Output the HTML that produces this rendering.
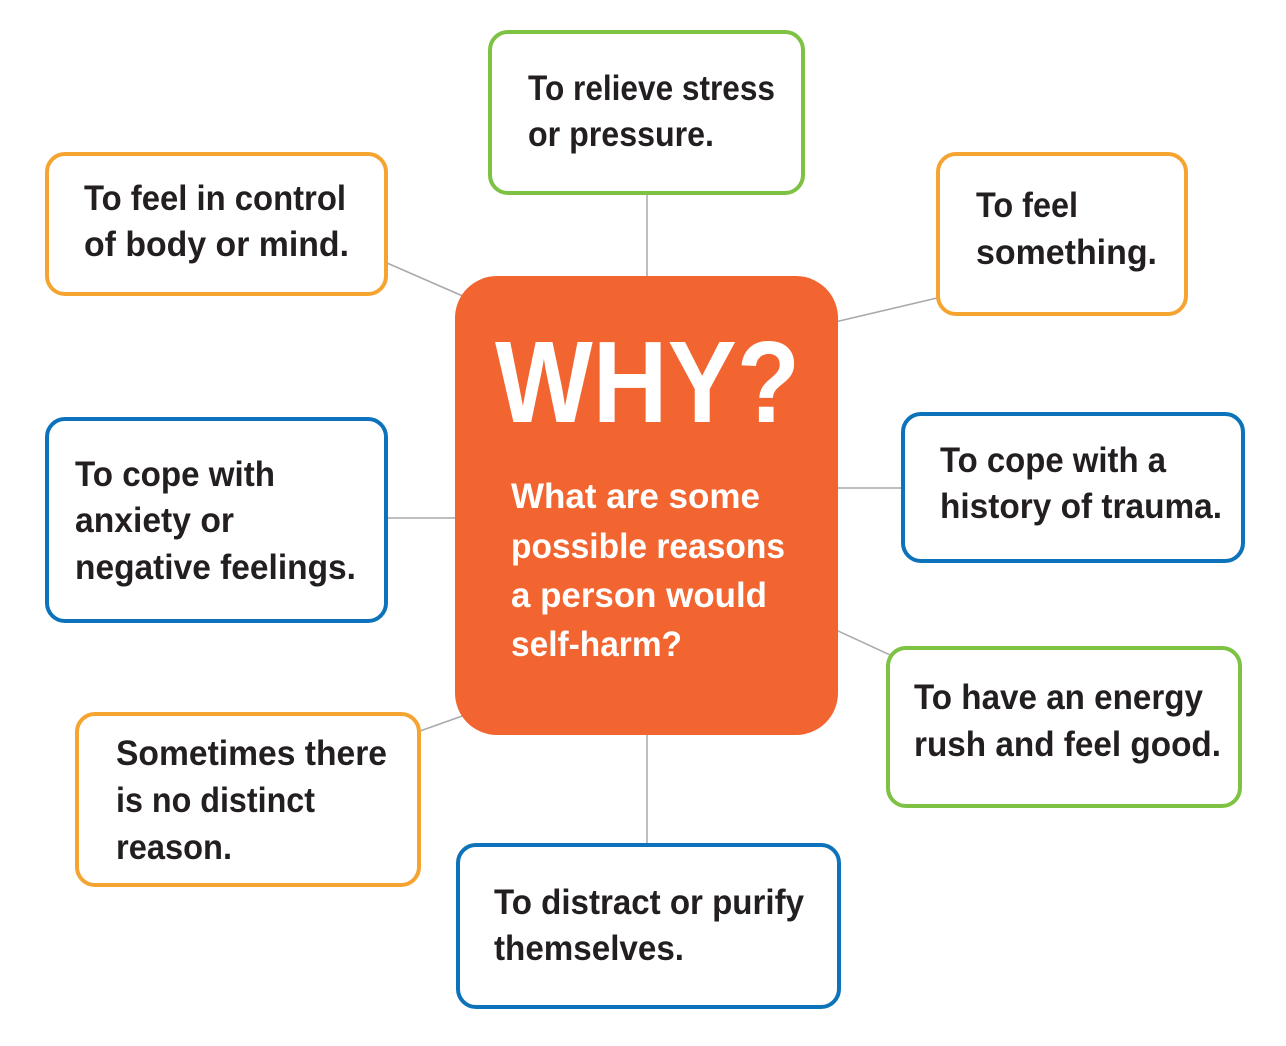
<!DOCTYPE html>
<html><head><meta charset="utf-8"><style>
html,body{margin:0;padding:0;background:#fff;}
svg{display:block}
text{font-family:"Liberation Sans",sans-serif;font-weight:bold;}
</style></head><body>
<svg width="1286" height="1046" viewBox="0 0 1286 1046" xmlns="http://www.w3.org/2000/svg">
<g stroke="#a7a9ac" stroke-width="1.5">
<line x1="647" y1="193" x2="647" y2="280"/>
<line x1="387" y1="263" x2="465" y2="297"/>
<line x1="835" y1="322" x2="937" y2="298"/>
<line x1="387" y1="518" x2="457" y2="518"/>
<line x1="836" y1="488" x2="902" y2="488"/>
<line x1="836" y1="630" x2="890" y2="655"/>
<line x1="420" y1="731" x2="465" y2="715"/>
<line x1="647" y1="730" x2="647" y2="844"/>
</g>
<g fill="#fff" stroke-width="4">
<rect x="490" y="32" width="313" height="161" rx="18" stroke="#7dc242"/>
<rect x="47" y="154" width="339" height="140" rx="18" stroke="#f5a431"/>
<rect x="938" y="154" width="248" height="160" rx="18" stroke="#f5a431"/>
<rect x="47" y="419" width="339" height="202" rx="18" stroke="#0c72ba"/>
<rect x="903" y="414" width="340" height="147" rx="18" stroke="#0c72ba"/>
<rect x="888" y="648" width="352" height="158" rx="18" stroke="#7dc242"/>
<rect x="77" y="714" width="342" height="171" rx="18" stroke="#f5a431"/>
<rect x="458" y="845" width="381" height="162" rx="18" stroke="#0c72ba"/>
</g>
<rect x="455" y="276" width="383" height="459" rx="42" fill="#f26531"/>
<g fill="#231f20" font-size="35" lengthAdjust="spacingAndGlyphs">
<text x="528" y="100" textLength="247" lengthAdjust="spacingAndGlyphs">To relieve stress</text>
<text x="528" y="146" textLength="186" lengthAdjust="spacingAndGlyphs">or pressure.</text>
<text x="84" y="210" textLength="262" lengthAdjust="spacingAndGlyphs">To feel in control</text>
<text x="84" y="256" textLength="265" lengthAdjust="spacingAndGlyphs">of body or mind.</text>
<text x="976" y="217" textLength="102" lengthAdjust="spacingAndGlyphs">To feel</text>
<text x="976" y="264" textLength="181" lengthAdjust="spacingAndGlyphs">something.</text>
<text x="75" y="486" textLength="200" lengthAdjust="spacingAndGlyphs">To cope with</text>
<text x="75" y="532" textLength="159" lengthAdjust="spacingAndGlyphs">anxiety or</text>
<text x="75" y="579" textLength="281" lengthAdjust="spacingAndGlyphs">negative feelings.</text>
<text x="940" y="472" textLength="226" lengthAdjust="spacingAndGlyphs">To cope with a</text>
<text x="940" y="518" textLength="282" lengthAdjust="spacingAndGlyphs">history of trauma.</text>
<text x="914" y="709" textLength="289" lengthAdjust="spacingAndGlyphs">To have an energy</text>
<text x="914" y="756" textLength="307" lengthAdjust="spacingAndGlyphs">rush and feel good.</text>
<text x="116" y="765" textLength="271" lengthAdjust="spacingAndGlyphs">Sometimes there</text>
<text x="116" y="812" textLength="199" lengthAdjust="spacingAndGlyphs">is no distinct</text>
<text x="116" y="859" textLength="116" lengthAdjust="spacingAndGlyphs">reason.</text>
<text x="494" y="914" textLength="310" lengthAdjust="spacingAndGlyphs">To distract or purify</text>
<text x="494" y="960" textLength="190" lengthAdjust="spacingAndGlyphs">themselves.</text>
</g>
<g fill="#fff">
<text x="495" y="422" font-size="116" textLength="305" lengthAdjust="spacingAndGlyphs">WHY?</text>
<g font-size="35">
<text x="511" y="508" textLength="249" lengthAdjust="spacingAndGlyphs">What are some</text>
<text x="511" y="558" textLength="274" lengthAdjust="spacingAndGlyphs">possible reasons</text>
<text x="511" y="607" textLength="256" lengthAdjust="spacingAndGlyphs">a person would</text>
<text x="511" y="656" textLength="171" lengthAdjust="spacingAndGlyphs">self-harm?</text>
</g>
</g>
</svg>
</body></html>
